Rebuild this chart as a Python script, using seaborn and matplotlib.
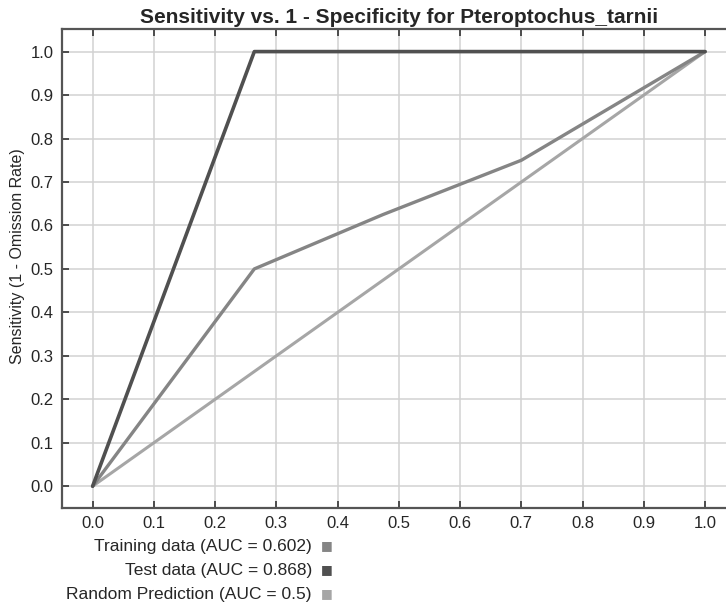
import numpy as np
import pandas as pd
import seaborn as sns
import matplotlib
matplotlib.use("Agg")
import matplotlib.pyplot as plt

# ROC points
train_fpr = [0.0, 0.264, 0.474, 0.70, 1.0]
train_tpr = [0.0, 0.5, 0.625, 0.75, 1.0]
test_fpr = [0.0, 0.264, 1.0]
test_tpr = [0.0, 1.0, 1.0]
rand_fpr = [0.0, 1.0]
rand_tpr = [0.0, 1.0]

labels = ["Training data (AUC = 0.602)", "Test data (AUC = 0.868)", "Random Prediction (AUC = 0.5)"]
colors = ["#858585", "#505050", "#a6a6a6"]
ticks = [0.0, 0.1, 0.2, 0.3, 0.4, 0.5, 0.6, 0.7, 0.8, 0.9, 1.0]

sns.set_style("white")
plt.rcParams['font.family'] = ['Liberation Sans', 'DejaVu Sans']

fig = plt.figure(figsize=(7.26, 6.04), dpi=100)
ax = fig.add_axes([0.0854, 0.159, 0.928, 0.793])

# random first so the others draw on top
sns.lineplot(x=rand_fpr, y=rand_tpr, ax=ax, color=colors[2], lw=2.2, zorder=3)
sns.lineplot(x=train_fpr, y=train_tpr, ax=ax, color=colors[0], lw=2.4, zorder=4, sort=False)
sns.lineplot(x=test_fpr, y=test_tpr, ax=ax, color=colors[1], lw=2.6, zorder=5, sort=False)

ax.set_xlim(-0.05, 1.05)
ax.set_ylim(-0.05, 1.052)
ax.set_xticks(ticks)
ax.set_yticks(ticks)
ax.set_xticklabels([f"{t:.1f}" for t in ticks], fontsize=12)
ax.set_yticklabels([f"{t:.1f}" for t in ticks], fontsize=12)
ax.grid(True, color="#d2d2d2", lw=1.1)
ax.set_axisbelow(True)
ax.tick_params(direction="in", length=5, width=1.2, color="#333333",
               top=True, left=True, bottom=True, right=False, pad=6)
for side in ["left", "bottom", "top"]:
    ax.spines[side].set_color("#555555")
    ax.spines[side].set_linewidth(1.6)
ax.spines["right"].set_visible(False)

ax.set_title("Sensitivity vs. 1 - Specificity for Pteroptochus_tarnii",
             fontsize=15, fontweight="bold", pad=4)
ax.set_ylabel("Sensitivity (1 - Omission Rate)", fontsize=11.5)
ax.yaxis.set_label_coords(-0.055, 0.525)

# legend below plot: right-aligned text with a square to its right
for i, (lab, col) in enumerate(zip(labels, colors)):
    y = 1 - (546 + i * 24) / 604
    fig.text(312 / 726, y, lab, ha="right", va="center", fontsize=12.5)
    fig.text(321 / 726, y, "\u25A0", ha="left", va="center", fontsize=9, color=col,
             family="DejaVu Sans")

fig.savefig("out.png", dpi=100)
